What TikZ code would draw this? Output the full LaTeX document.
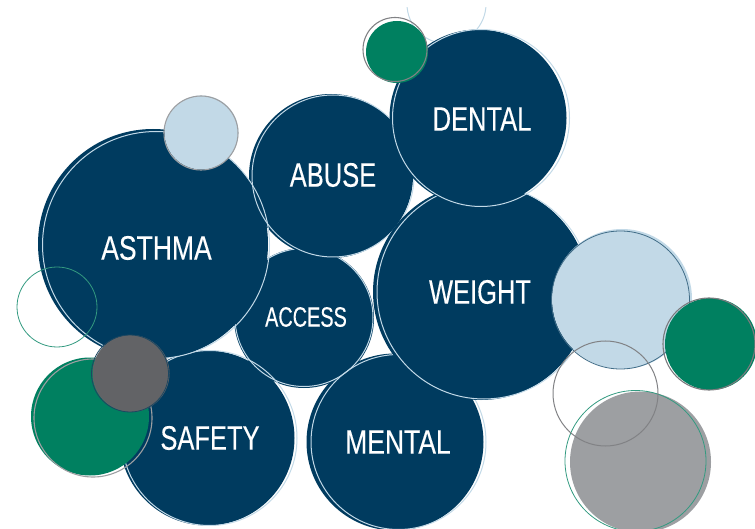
\documentclass[tikz,border=0pt]{standalone}
\usepackage{fontspec}
\setmainfont[FakeStretch=0.75,FakeBold=0.25]{Liberation Sans}
\newfontfamily\narrowlabel[FakeStretch=0.71,FakeBold=0.25]{Liberation Sans}
\newfontfamily\widelabel[FakeStretch=0.78,FakeBold=0.25]{Liberation Sans}
\definecolor{navy}{HTML}{003B5F}
\definecolor{pale}{HTML}{C2D9E7}
\definecolor{teal}{HTML}{008060}
\definecolor{midgray}{HTML}{9D9FA2}
\definecolor{darkgray}{HTML}{626366}
\tikzset{
  navyfill/.style={fill=navy,draw=none},
  paleline/.style={draw=pale,line width=1pt},
  lbl/.style={text=white,inner sep=0pt,font=\fontsize{34}{34}\selectfont},
  widelbl/.style={text=white,inner sep=0pt,font=\widelabel\fontsize{34}{34}\selectfont},
  smalllbl/.style={text=white,inner sep=0pt,font=\narrowlabel\fontsize{28}{28}\selectfont}
}
\begin{document}
\begin{tikzpicture}[x=1pt,y=-1pt]
\useasboundingbox (0,0) rectangle (755,529);
% top hollow circle, cut off above
\begin{scope}
  \clip (380,8) rectangle (520,60);
  \draw[paleline] (446.5,4) circle[radius=39.5];
\end{scope}
% navy circles
\fill[navyfill] (207,438) circle[radius=87.5];
\fill[navyfill] (395,442) circle[radius=88.5];
\fill[navyfill] (304,318) circle[radius=70];
\draw[paleline] (209.5,438) circle[radius=87.5];
\draw[paleline] (398.5,442) circle[radius=87.5];
\draw[paleline] (304,317.5) circle[radius=69];
\fill[navyfill] (331,176) circle[radius=82];
\fill[navyfill] (153,244) circle[radius=115];
\draw[paleline] (333,176) circle[radius=81];
\draw[paleline] (156,245) circle[radius=113.5];
\fill[navyfill] (481,292) circle[radius=108];
\draw[paleline] (484,292) circle[radius=107];
\fill[navyfill] (478,118) circle[radius=88.5];
\draw[paleline] (481,118) circle[radius=88.5];
% small light blue
\fill[pale] (201.5,132.5) circle[radius=37];
\draw[midgray,line width=1.1pt] (201,133) circle[radius=37];
% top green
\fill[teal] (397,52) circle[radius=31];
\draw[darkgray!80,line width=1.1pt] (395,49.5) circle[radius=32];
% left hollow green
\draw[teal!80,line width=0.8pt] (57,307) circle[radius=40];
% left big green
\fill[teal] (90,416.5) circle[radius=59];
\draw[midgray,line width=1.1pt] (93,418) circle[radius=59];
% dark gray
\fill[darkgray] (131,373.5) circle[radius=38.5];
\draw[navy!70!darkgray,line width=0.8pt] (130,373.5) circle[radius=38.5];
% large light blue
\fill[pale] (622,299) circle[radius=70];
\draw[navy!75,line width=0.8pt] (620.5,300) circle[radius=69];
% right green
\fill[teal] (711,344) circle[radius=46];
\draw[darkgray!85,line width=1.1pt] (709,344) circle[radius=46];
% big gray
\fill[midgray] (640.5,462) circle[radius=70.5];
\draw[teal!80,line width=0.8pt] (635.5,461) circle[radius=70.5];
% hollow gray
\draw[darkgray!80,line width=1pt] (605.5,393.5) circle[radius=52.5];
% labels
\node[widelbl] (asthma) at (156.5,248) {ASTHMA};
\node[lbl] (dental) at (482,119) {DENTAL};
\node[lbl] (abuse) at (333,175) {ABUSE};
\node[lbl] (weight) at (480,292) {WEIGHT};
\node[smalllbl] (access) at (306,317) {ACCESS};
\node[widelbl] (mental) at (398,442) {MENTAL};
\node[lbl] (safety) at (210,438) {SAFETY};
\end{tikzpicture}
\end{document}
